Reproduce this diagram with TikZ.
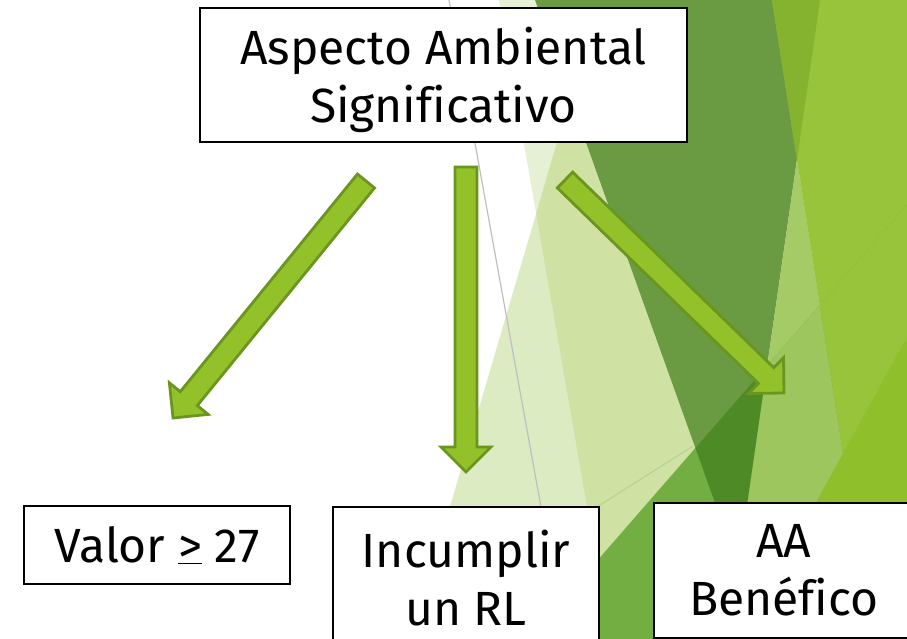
\documentclass[tikz,border=0pt]{standalone}
\usepackage{fontspec}
\setmainfont[Ligatures=NoCommon]{Fira Sans}
\usetikzlibrary{positioning,calc}
\definecolor{flechaverde}{RGB}{146,193,42}
\definecolor{flechaborde}{RGB}{106,150,31}
\definecolor{palidoA}{RGB}{230,240,213}
\definecolor{palidoB}{RGB}{220,235,194}
\definecolor{palidoAB}{RGB}{207,226,163}
\definecolor{oscuro}{RGB}{106,154,65}
\definecolor{oscuroM}{RGB}{78,138,38}
\definecolor{mezcla}{RGB}{133,178,47}
\definecolor{claro}{RGB}{152,196,60}
\definecolor{base}{RGB}{165,203,103}
\definecolor{baseM}{RGB}{158,198,94}
\definecolor{medio}{RGB}{114,174,66}
\definecolor{vivo}{RGB}{143,191,42}
\definecolor{grisfino}{RGB}{191,191,191}
\definecolor{tenue}{RGB}{184,207,149}
\newcommand{\flecha}[2]{%
  \coordinate (cuello) at ($(#2)!25pt!(#1)$);
  \draw[bloque] ($(#1)!11pt!90:(#2)$) -- ($(cuello)!11pt!90:(#2)$) -- ($(cuello)!25pt!90:(#2)$)
    -- (#2) -- ($(cuello)!25pt!-90:(#2)$) -- ($(cuello)!11pt!-90:(#2)$) -- ($(#1)!11pt!-90:(#2)$) -- cycle;
}

\begin{document}
\begin{tikzpicture}[x=1pt, y=-1pt,
  caja/.style = {shape=rectangle, draw=black, line width=1.5pt, fill=white,
    align=center, inner sep=0pt, font=\fontsize{48}{58}\selectfont},
  bloque/.style = {draw=flechaborde, fill=flechaverde, line width=2.8pt}
  ]
  \useasboundingbox (0,0) rectangle (907,639);
  % fondo
  \fill[palidoA] (499,0) -- (907,0) -- (907,639) -- (610,639) -- cycle;
  \fill[palidoB] (599,0) -- (907,0) -- (907,639) -- (411,639) -- cycle;
  \begin{scope}
    \clip (499,0) -- (907,0) -- (907,639) -- (610,639) -- cycle;
    \fill[palidoAB] (599,0) -- (907,0) -- (907,639) -- (411,639) -- cycle;
  \end{scope}
  \fill[oscuro] (535,0) -- (820,0) -- (738,567) -- cycle;
  \fill[base] (797,160) -- (872,639) -- (728,639) -- cycle;
  \fill[claro] (772,0) -- (907,0) -- (907,639) -- (872,639) -- cycle;
  \fill[mezcla] (772,0) -- (820,0) -- (797,160) -- cycle;
  \begin{scope}
    \clip (529,639) -- (907,205) -- (907,639) -- cycle;
    \fill[medio] (400,200) rectangle (907,639);
    \fill[oscuroM] (535,0) -- (820,0) -- (738,567) -- cycle;
    \fill[baseM] (797,160) -- (872,639) -- (728,639) -- cycle;
    \fill[claro] (772,0) -- (907,0) -- (907,639) -- (872,639) -- cycle;
  \end{scope}
  \fill[vivo] (907,337) -- (741,639) -- (907,639) -- cycle;
  \draw[grisfino, line width=1.2pt] (449,0) -- (541,507);
  \draw[tenue, line width=1pt] (597,507) -- (693,446);

  \node[caja, minimum width=487pt, minimum height=134pt, text depth=0pt] (aspecto) at (443.5,75) {Aspecto Ambiental\\Significativo};
  \node[caja, minimum width=266pt, minimum height=78pt] (valor) at (157,545) {Valor \underline{>} 27};
  \node[caja, anchor=north, minimum width=266pt, inner ysep=23pt, text depth=100pt] (incumplir) at (466,506) {Incumplir\\un RL};
  \node[caja, anchor=north west, minimum width=260pt, minimum height=135pt] (benefico) at (653,502) {AA\\Benéfico};

  \coordinate (t1) at (366,181);
  \coordinate (p1) at (173,418);
  \coordinate (t2) at (466,167);
  \coordinate (p2) at (466,472);
  \coordinate (t3) at (565,180);
  \coordinate (p3) at (784,393);
  \flecha{t1}{p1}
  \flecha{t2}{p2}
  \flecha{t3}{p3}
\end{tikzpicture}
\end{document}
